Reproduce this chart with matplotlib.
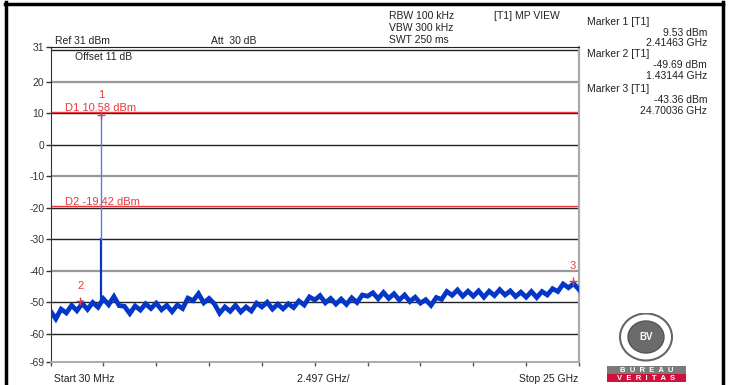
import numpy as np
import matplotlib
matplotlib.use("Agg")
import matplotlib.pyplot as plt
from matplotlib.lines import Line2D
from matplotlib.patches import Ellipse, Rectangle

plt.rcParams['font.family'] = ['Liberation Sans', 'DejaVu Sans']

W, H = 733, 385

# sweep 30 MHz .. 25 GHz, trace level (dBm)
freq = np.linspace(0.03, 25.0, 101)
level = [-52.8, -55.3, -52.2, -53.4, -51.0, -52.7, -50.4, -52.3, -50.1, -51.6,
         -48.9, -50.8, -48.2, -51.1, -51.3, -53.6, -51.2, -52.5, -50.5, -52.0,
         -50.3, -52.4, -51.0, -53.0, -50.9, -52.0, -48.7, -49.5, -47.3, -50.2,
         -48.8, -50.5, -53.5, -51.5, -52.9, -51.0, -53.1, -51.5, -52.8, -50.3,
         -51.5, -50.0, -52.2, -50.6, -52.1, -50.5, -51.7, -49.6, -50.9, -48.3,
         -49.3, -47.9, -50.2, -48.8, -50.6, -49.0, -50.7, -48.6, -50.1, -47.7,
         -48.1, -47.0, -48.9, -46.9, -48.8, -47.3, -49.3, -47.7, -49.8, -48.4,
         -50.3, -49.2, -51.0, -48.5, -49.1, -46.6, -47.8, -46.1, -48.1, -46.5,
         -48.1, -46.4, -48.4, -46.5, -47.9, -46.0, -47.7, -46.4, -48.2, -46.8,
         -48.4, -46.6, -48.5, -46.6, -47.7, -45.7, -46.6, -44.2, -45.4, -44.1,
         -46.0]

# carrier spike
spike_f = 2.41463
spike_top = 10.58
spike_mid = -30.0
spike_base = -50.0

# markers
mk_num = ['1', '2', '3']
mk_f = [2.41463, 1.43144, 24.70036]
mk_lvl = [9.53, -49.69, -43.36]

# display lines
d_names = ['D1 10.58 dBm', 'D2 -19.42 dBm']
d_lvl = [10.58, -19.42]

yticks = [31, 20, 10, 0, -10, -20, -30, -40, -50, -60, -69]
grid_black = [10, 0, -20, -30, -50, -60]
grid_gray = [20, -10, -40]
span_div = 2.497

side_lines = [('Marker 1 [T1]', None), ('9.53 dBm', 'r'), ('2.41463 GHz', 'r'),
              ('Marker 2 [T1]', None), ('-49.69 dBm', 'r'), ('1.43144 GHz', 'r'),
              ('Marker 3 [T1]', None), ('-43.36 dBm', 'r'), ('24.70036 GHz', 'r')]
side_y = [22, 32.5, 43.5, 54, 65, 76, 89.5, 100, 111]


def fx(x):
    return x / W


def fy(y):
    return 1 - y / H


fig = plt.figure(figsize=(W / 100, H / 100), dpi=100)
ax = fig.add_axes([fx(50.5), fy(362), fx(579) - fx(50.5), fy(46.7) - fy(362)])
ax.set_xlim(0.03, 25.0)
ax.set_ylim(-69, 31.2)

for g in grid_black:
    ax.axhline(g, color='#222222', lw=1.0, zorder=1)
for g in grid_gray:
    ax.axhline(g, color='#999999', lw=1.6, zorder=1)
ax.axhline(30.2, color='#222222', lw=1.0, zorder=1)

for name, v in zip(d_names, d_lvl):
    ax.axhline(v, color='#e8383d', lw=1.0, zorder=2)
    ax.text(0.7, v - 0.4, name, color='#e8383d', fontsize=8, va='bottom', ha='left')

ax.plot(freq, level, color='#0436c8', lw=3.4, zorder=3, solid_joinstyle='miter')
ax.plot([spike_f, spike_f], [spike_base, spike_mid], color='#0436c8', lw=1.6, zorder=3)
ax.plot([spike_f, spike_f], [spike_mid, spike_top], color='#5a7be0', lw=1.0, zorder=3)

for n, f, v in zip(mk_num, mk_f, mk_lvl):
    ax.plot(f, v, marker='+', color='#e8383d', ms=6, mew=1.0, zorder=4)
    up = 4.6 if n == '1' else 3.3
    ax.text(f, v + up, n, color='#e8383d', fontsize=8, ha='center', va='bottom')

ax.spines['left'].set_color('#333333')
ax.spines['top'].set_color('#222222')
ax.spines['right'].set_color('#aaaaaa')
ax.spines['right'].set_linewidth(1.6)
ax.spines['bottom'].set_color('#aaaaaa')
ax.spines['bottom'].set_linewidth(1.4)

ax.set_yticks(yticks)
ax.set_yticklabels([str(t) for t in yticks], fontsize=7.5, color='#333333')
ax.tick_params(axis='y', direction='out', length=3.5, width=1, pad=1, colors='#333333')
ax.set_xticks([0.03 + k * span_div for k in range(11)])
ax.set_xticklabels([])
ax.tick_params(axis='x', direction='out', length=3, width=1, color='#555555')

# header texts
fs = 7.5
fig.text(fx(55), fy(41), 'Ref 31 dBm', fontsize=fs, va='center', color='#222222')
fig.text(fx(211), fy(41), 'Att  30 dB', fontsize=fs, va='center', color='#222222')
fig.text(fx(75), fy(57), 'Offset 11 dB', fontsize=fs, va='center', color='#222222')
fig.text(fx(389), fy(16), 'RBW 100 kHz', fontsize=fs, va='center', color='#222222')
fig.text(fx(389), fy(28), 'VBW 300 kHz', fontsize=fs, va='center', color='#222222')
fig.text(fx(389), fy(40), 'SWT 250 ms', fontsize=fs, va='center', color='#222222')
fig.text(fx(494), fy(16), '[T1] MP VIEW', fontsize=fs, va='center', color='#222222')

for (s, al), y in zip(side_lines, side_y):
    if al == 'r':
        fig.text(fx(707), fy(y), s, fontsize=fs, va='center', ha='right', color='#222222')
    else:
        fig.text(fx(587), fy(y), s, fontsize=fs, va='center', ha='left', color='#222222')

fig.text(fx(54), fy(379), 'Start 30 MHz', fontsize=fs, va='center', color='#222222')
fig.text(fx(297), fy(379), '2.497 GHz/', fontsize=fs, va='center', color='#222222')
fig.text(fx(578), fy(379), 'Stop 25 GHz', fontsize=fs, va='center', ha='right', color='#222222')

# screen frame
fig.add_artist(Line2D([fx(6), fx(6)], [0, fy(2)], color='black', lw=2.5))
fig.add_artist(Line2D([fx(5), fx(723)], [fy(3.5), fy(3.5)], color='black', lw=2.5))
fig.add_artist(Line2D([fx(722.5), fx(722.5)], [0, fy(2)], color='black', lw=2.5))

# logo
lg = fig.add_axes([fx(605), fy(383), fx(688) - fx(605), fy(313) - fy(383)])
lg.set_xlim(0, 83)
lg.set_ylim(0, 70)
lg.axis('off')
lg.add_patch(Ellipse((41, 46), 52, 47, facecolor='white', edgecolor='#666666', lw=1.5))
lg.add_patch(Ellipse((41, 46), 36, 32, facecolor='#6b6b6b', edgecolor='#555555', lw=1))
lg.text(41, 46, 'BV', color='white', fontsize=7, ha='center', va='center', fontweight='bold')
lg.add_patch(Rectangle((2, 9), 79, 8, facecolor='#7a7a7a', edgecolor='none'))
lg.add_patch(Rectangle((2, 1), 79, 8, facecolor='#d0103a', edgecolor='none'))
lg.text(41.5, 13, 'B  U  R  E  A  U', color='white', fontsize=5.5, ha='center', va='center', fontweight='bold')
lg.text(41.5, 5, 'V  E  R  I  T  A  S', color='white', fontsize=5.5, ha='center', va='center', fontweight='bold')

fig.savefig('out.png', dpi=100)
